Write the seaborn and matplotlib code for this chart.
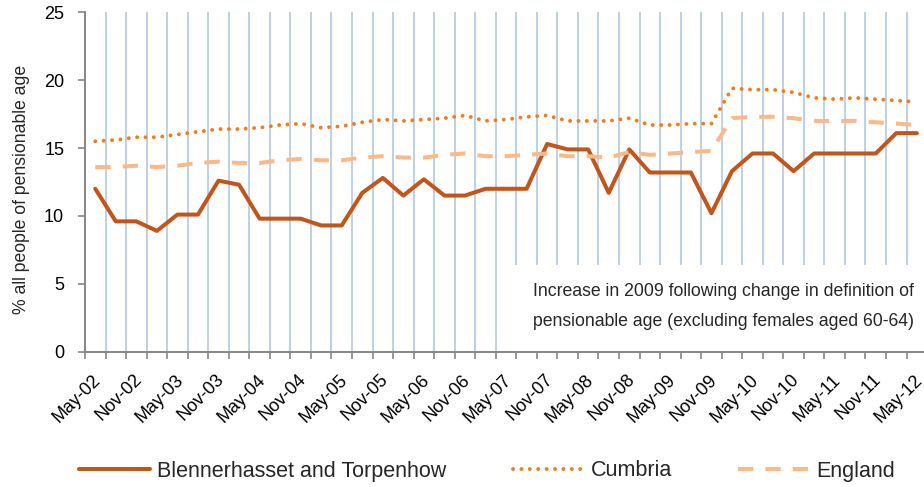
import matplotlib
matplotlib.use("Agg")
import matplotlib.pyplot as plt
import matplotlib.transforms as mtransforms
from matplotlib.patches import Rectangle
from matplotlib.ticker import FixedLocator
import seaborn as sns
import pandas as pd
import numpy as np

# ---- data (quarterly, May-02 .. May-12) ----
tick_labels = ["May-02", "Nov-02", "May-03", "Nov-03", "May-04", "Nov-04", "May-05",
               "Nov-05", "May-06", "Nov-06", "May-07", "Nov-07", "May-08", "Nov-08",
               "May-09", "Nov-09", "May-10", "Nov-10", "May-11", "Nov-11", "May-12"]

blennerhasset = [12.0, 9.6, 9.6, 8.9, 10.1, 10.1, 12.6, 12.3, 9.8, 9.8,
                 9.8, 9.3, 9.3, 11.7, 12.8, 11.5, 12.7, 11.5, 11.5, 12.0,
                 12.0, 12.0, 15.3, 14.9, 14.9, 11.7, 14.9, 13.2, 13.2, 13.2,
                 10.2, 13.3, 14.6, 14.6, 13.3, 14.6, 14.6, 14.6, 14.6, 16.1, 16.1]

cumbria = [15.5, 15.6, 15.8, 15.8, 16.0, 16.2, 16.4, 16.4, 16.5, 16.7,
           16.8, 16.5, 16.6, 16.9, 17.1, 17.0, 17.1, 17.2, 17.4, 17.0,
           17.1, 17.3, 17.4, 17.0, 17.0, 17.0, 17.2, 16.7, 16.7, 16.8,
           16.8, 19.4, 19.3, 19.3, 19.1, 18.7, 18.6, 18.7, 18.6, 18.5, 18.4]

england = [13.6, 13.6, 13.7, 13.6, 13.7, 13.9, 14.0, 13.9, 13.9, 14.1,
           14.2, 14.1, 14.1, 14.3, 14.4, 14.3, 14.3, 14.5, 14.6, 14.4,
           14.4, 14.5, 14.6, 14.4, 14.4, 14.3, 14.7, 14.5, 14.6, 14.7,
           14.8, 17.2, 17.3, 17.3, 17.2, 17.0, 17.0, 17.0, 16.9, 16.8, 16.7]

series_names = ["Blennerhasset and Torpenhow", "Cumbria", "England"]
annotation = ["Increase in 2009 following change in definition of",
              "pensionable age (excluding females aged 60-64)"]

n = len(blennerhasset)
df = pd.DataFrame({
    "q": np.tile(np.arange(n), 3),
    "value": blennerhasset + cumbria + england,
    "series": np.repeat(series_names, n),
})

sns.set_style("white")
plt.rcParams["font.family"] = ["Liberation Sans", "DejaVu Sans"]

W, H = 924, 487
fig = plt.figure(figsize=(W / 100, H / 100), dpi=100)
ax = fig.add_axes([85 / W, 1 - 351.7 / H, (W - 85) / W, (351.7 - 12.3) / H])

grey = "#868686"
styles = {
    "Blennerhasset and Torpenhow": dict(color="#C0561B", lw=2.9, ls="-"),
    "Cumbria": dict(color="#F07C1E", lw=2.8, ls=(0, (0.01, 2.15))),
    "England": dict(color="#F9B98A", lw=2.9, ls=(0, (3.8, 3.0))),
}
for name in series_names:
    st = styles[name]
    sns.lineplot(data=df[df["series"] == name], x="q", y="value", ax=ax,
                 color=st["color"], linewidth=st["lw"], linestyle=st["ls"],
                 label=name, zorder=3)
for line in ax.get_lines():
    if line.get_label() == "Cumbria":
        line.set_dash_capstyle("round")

ax.set_xlim(-0.5, 40.35)
ax.set_ylim(0, 25)
ax.set_xlabel("")
ax.set_ylabel("")

# y axis
ax.set_yticks(np.arange(0, 26, 5))
ax.tick_params(axis="y", which="major", direction="out", length=5, width=1.2,
               color=grey, labelsize=13, labelcolor="black", pad=10, left=True)

# x axis: labels at category centres, ticks/grid at boundaries
ax.xaxis.set_major_locator(FixedLocator(np.arange(0, n, 2)))
ax.set_xticklabels(tick_labels, rotation=45, ha="right", va="top",
                   rotation_mode="anchor", fontsize=13)
ax.xaxis.set_minor_locator(FixedLocator(np.arange(-0.5, n, 1)))
ax.tick_params(axis="x", which="major", length=0, pad=14, labelcolor="black")
ax.tick_params(axis="x", which="minor", direction="out", length=5, width=1.2,
               color=grey, bottom=True)
offset = mtransforms.ScaledTranslation(-3 / 100, 0, fig.dpi_scale_trans)
for lab in ax.get_xticklabels():
    lab.set_transform(lab.get_transform() + offset)

ax.set_axisbelow(True)
ax.grid(False)
ax.grid(which="minor", axis="x", color="#B9CDE5", linewidth=1.3)

for s in ["top", "right"]:
    ax.spines[s].set_visible(False)
for s in ["left", "bottom"]:
    ax.spines[s].set_color(grey)
    ax.spines[s].set_linewidth(1.4)

# annotation box
ax.add_patch(Rectangle((20.0, 0.08), 25, 6.3, facecolor="white",
                       edgecolor="none", zorder=1))
ax.text(21.3, 4.42, annotation[0], fontsize=12.7, ha="left", va="center", zorder=4)
ax.text(21.3, 2.21, annotation[1], fontsize=12.7, ha="left", va="center", zorder=4)

fig.text(22 / W, 1 - 189 / H, "% all people of pensionable age", rotation=90,
         ha="center", va="center", fontsize=12.7)

handles, labels = ax.get_legend_handles_labels()
if ax.legend_:
    ax.legend_.remove()
fig.legend(handles, labels, loc="center", bbox_to_anchor=(487 / W, 1 - 471 / H),
           ncol=3, frameon=False, fontsize=15.5, handlelength=3.3,
           handletextpad=0.3, columnspacing=3.1)

fig.savefig("out.png", dpi=100)
